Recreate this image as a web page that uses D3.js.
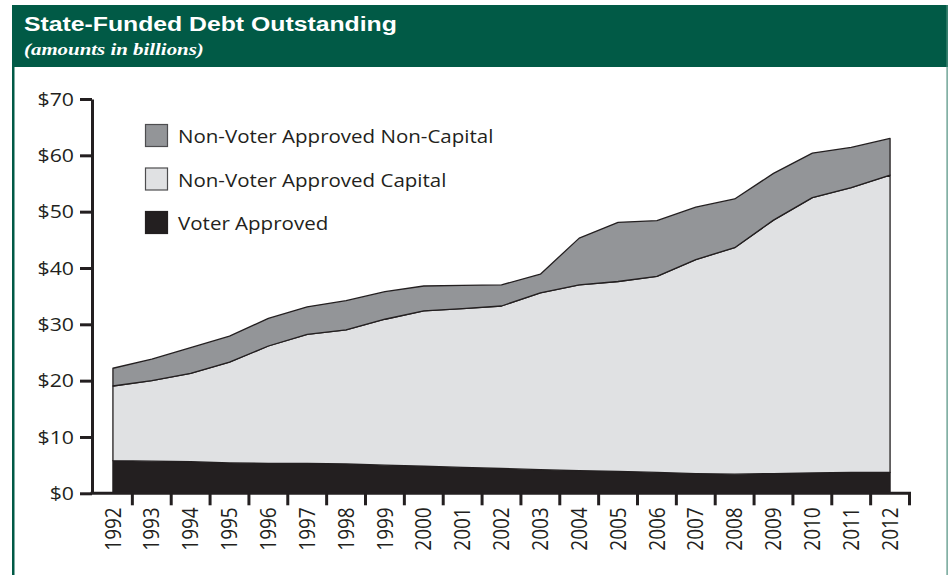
<!DOCTYPE html>
<html>
<head>
<meta charset="utf-8">
<script src="https://cdn.jsdelivr.net/npm/d3@7/dist/d3.min.js"></script>
<style>
  html, body { margin: 0; padding: 0; background: #ffffff; }
  svg { display: block; }
</style>
</head>
<body>
<svg id="chart" width="948" height="575"></svg>
<script>
// Fiscal years shown on the horizontal axis
const years = [1992, 1993, 1994, 1995, 1996, 1997, 1998, 1999, 2000, 2001, 2002,
               2003, 2004, 2005, 2006, 2007, 2008, 2009, 2010, 2011, 2012];

// Outstanding debt by category, billions of dollars (stacked bottom to top)
const voterApproved = [5.8, 5.7, 5.6, 5.4, 5.3, 5.3, 5.2, 5.0, 4.8, 4.6, 4.4,
                       4.2, 4.0, 3.9, 3.7, 3.5, 3.4, 3.5, 3.6, 3.7, 3.7];
const nonVoterCapital = [13.25, 14.3, 15.7, 17.9, 20.85, 22.9, 23.8, 25.9, 27.6, 28.2, 28.85,
                         31.4, 33.0, 33.7, 34.8, 38.0, 40.2, 45.0, 48.9, 50.55, 52.8];
const nonVoterNonCapital = [3.15, 3.8, 4.55, 4.6, 4.9, 4.9, 5.2, 4.9, 4.4, 4.1, 3.75,
                            3.3, 8.3, 10.5, 9.9, 9.3, 8.65, 8.3, 7.9, 7.15, 6.5];

// Series labels (stack order) and y-axis tick values
const seriesKeys = ["Voter Approved", "Non-Voter Approved Capital", "Non-Voter Approved Non-Capital"];
const legendOrder = ["Non-Voter Approved Non-Capital", "Non-Voter Approved Capital", "Voter Approved"];
const yTickValues = [0, 10, 20, 30, 40, 50, 60, 70];

const title = "State-Funded Debt Outstanding";
const subtitle = "(amounts in billions)";

const fills = {
  "Voter Approved": "#231f20",
  "Non-Voter Approved Capital": "#e0e1e3",
  "Non-Voter Approved Non-Capital": "#939598"
};
const ink = "#231f20";
const green = "#015a46";
const SX = 1.18;      // horizontal stretch of the heading lettering
const SX_AXIS = 1.12; // horizontal stretch of axis lettering
const SX_KEY = 1.08;  // horizontal stretch of legend lettering
const bodyFont = "'Open Sans', 'Noto Sans', sans-serif";

const svg = d3.select("#chart");

// Panel frame and title band
svg.append("rect").attr("x", 12).attr("y", 5).attr("width", 936).attr("height", 62).attr("fill", green);
svg.append("rect").attr("x", 12).attr("y", 5).attr("width", 2.5).attr("height", 570).attr("fill", green);
svg.append("rect").attr("x", 946.5).attr("y", 5).attr("width", 1.2).attr("height", 570).attr("fill", "#4f8f7f");

svg.append("text")
  .attr("transform", `translate(24,31) scale(${SX},1)`)
  .attr("fill", "#ffffff")
  .attr("font-family", "'Liberation Sans', Arial, sans-serif")
  .attr("font-weight", "bold")
  .attr("font-size", 21)
  .text(title);

svg.append("text")
  .attr("transform", `translate(24,55) scale(${SX},1)`)
  .attr("fill", "#ffffff")
  .attr("font-family", "'Liberation Serif', 'Times New Roman', serif")
  .attr("font-weight", "bold")
  .attr("font-style", "italic")
  .attr("font-size", 17.7)
  .text(subtitle);

// Scales
const x = d3.scaleBand().domain(years).range([93.5, 909.5]).paddingInner(0).paddingOuter(0);
const bw = x.bandwidth();
const cx = d => x(d) + bw / 2;
const y = d3.scaleLinear().domain([0, 70]).range([493.3, 99]);

// Stacked data
const table = years.map((yr, i) => ({
  year: yr,
  "Voter Approved": voterApproved[i],
  "Non-Voter Approved Capital": nonVoterCapital[i],
  "Non-Voter Approved Non-Capital": nonVoterNonCapital[i]
}));
const stacked = d3.stack().keys(seriesKeys)(table);

const area = d3.area()
  .x(d => cx(d.data.year))
  .y0(d => y(d[0]))
  .y1(d => y(d[1]));

svg.append("g")
  .selectAll("path")
  .data(stacked)
  .join("path")
  .attr("d", area)
  .attr("fill", s => fills[s.key])
  .attr("stroke", ink)
  .attr("stroke-width", 1.3)
  .attr("stroke-linejoin", "round");

// Y axis
const yAxis = svg.append("g")
  .attr("transform", "translate(92,0)")
  .call(d3.axisLeft(y).tickValues(yTickValues).tickSize(12).tickSizeOuter(0).tickFormat(d => "$" + d));
yAxis.select(".domain").attr("stroke", ink).attr("stroke-width", 3);
yAxis.selectAll(".tick line").attr("stroke", ink).attr("stroke-width", 3);
yAxis.selectAll(".tick text")
  .attr("x", -18 / SX_AXIS)
  .attr("transform", `scale(${SX_AXIS},1)`)
  .attr("fill", ink)
  .attr("font-family", bodyFont)
  .attr("font-size", 19);

// X axis: year labels at band centres, tick marks at band boundaries
const xAxis = svg.append("g")
  .attr("transform", `translate(0,${y(0)})`)
  .call(d3.axisBottom(x).tickSize(0).tickSizeOuter(0));
xAxis.select(".domain").remove();
xAxis.selectAll(".tick text")
  .attr("x", 0)
  .attr("y", 0)
  .attr("dy", "0.36em")
  .attr("text-anchor", "end")
  .attr("transform", `translate(0,14) scale(${SX_AXIS},1) rotate(-90)`)
  .attr("fill", ink)
  .attr("font-family", bodyFont)
  .attr("font-size", 19);

xAxis.append("line")
  .attr("x1", 90.5).attr("x2", x(years[years.length - 1]) + bw + 1.5)
  .attr("y1", 0).attr("y2", 0)
  .attr("stroke", ink).attr("stroke-width", 3);
xAxis.selectAll(".bound")
  .data(years)
  .join("line")
  .attr("class", "bound")
  .attr("x1", d => x(d) + bw).attr("x2", d => x(d) + bw)
  .attr("y1", 0).attr("y2", 12)
  .attr("stroke", ink).attr("stroke-width", 3);

// Legend
const legend = svg.append("g").attr("transform", "translate(145,124)");
const rows = legend.selectAll("g")
  .data(legendOrder)
  .join("g")
  .attr("transform", (d, i) => `translate(0,${i * 43.5})`);
rows.append("rect")
  .attr("x", 0.5).attr("y", 0.5)
  .attr("width", 22).attr("height", 22)
  .attr("fill", d => fills[d])
  .attr("stroke", d => d === "Voter Approved" ? fills[d] : "#4d4d4f")
  .attr("stroke-width", 1.2);
rows.append("text")
  .attr("transform", `translate(33,19) scale(${SX_KEY},1)`)
  .attr("fill", ink)
  .attr("font-family", bodyFont)
  .attr("font-size", 19)
  .text(d => d);
</script>
</body>
</html>
